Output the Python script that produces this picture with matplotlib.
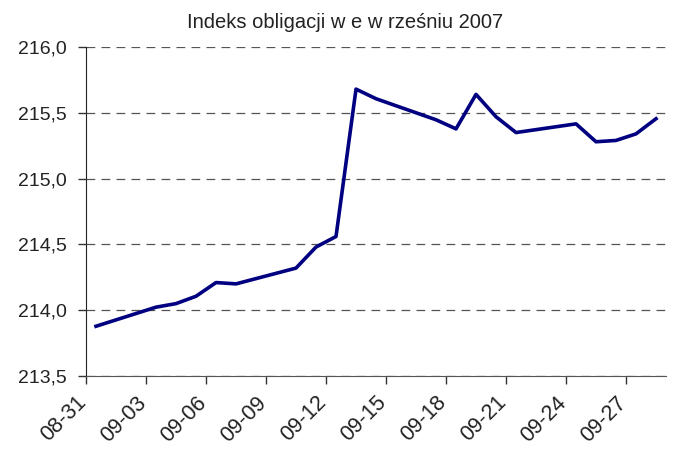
import matplotlib
matplotlib.use('Agg')
import matplotlib.pyplot as plt
import matplotlib.transforms as mtransforms
import numpy as np

plt.rcParams['font.family'] = ['Liberation Sans', 'DejaVu Sans']

# day offset from 08-31 (weekends skipped in the data)
days = [0, 3, 4, 5, 6, 7, 10, 11, 12, 13, 14, 17, 18, 19, 20, 21, 24, 25, 26, 27, 28]
values = [213.878, 214.023, 214.05, 214.106, 214.21, 214.20, 214.32, 214.48, 214.56,
          215.68, 215.607, 215.447, 215.378, 215.64, 215.47, 215.35, 215.416, 215.28,
          215.29, 215.34, 215.455]

tick_labels = ['08-31', '09-03', '09-06', '09-09', '09-12', '09-15', '09-18',
               '09-21', '09-24', '09-27']
title = 'Indeks obligacji w e w rześniu 2007'

fig = plt.figure(figsize=(6.81, 4.49), dpi=100)
ax = fig.add_axes([0.1263, 0.1626, 0.8517, 0.7327])

# points sit in the middle of each day
x = np.array(days) + 0.5
ax.plot(x, values, color='#000080', lw=2.6, solid_joinstyle='round')

ax.set_xlim(0, 29)
ax.set_ylim(213.5, 216.0)
yt = np.arange(213.5, 216.01, 0.5)
ax.set_yticks(yt)
ax.set_yticklabels([('%.1f' % v).replace('.', ',') for v in yt],
                   fontsize=14, color='#222222')
ax.set_xticks(np.arange(0, 28, 3))
ax.set_xticklabels(tick_labels, rotation=45, ha='right', va='center',
                   rotation_mode='anchor', fontsize=15.5, color='#222222')

ax.yaxis.grid(True, linestyle=(0, (7, 5)), color='#555555', lw=0.9)
ax.set_axisbelow(True)
for s in ['top', 'right']:
    ax.spines[s].set_visible(False)
ax.spines['left'].set_color('#222222')
ax.spines['bottom'].set_color('#555555')
ax.tick_params(axis='both', direction='out', length=6, width=1, colors='#333333')
ax.tick_params(axis='x', pad=11, labelcolor='#222222')
ax.tick_params(axis='y', pad=8, labelcolor='#222222')

shift = mtransforms.ScaledTranslation(-3 / 100, 0, fig.dpi_scale_trans)
for lab in ax.get_xticklabels():
    lab.set_transform(lab.get_transform() + shift)

fig.text(0.507, 1 - 28 / 449, title, fontsize=14.5, ha='center', va='baseline',
         color='#222222')

fig.savefig('out.png', dpi=100)
